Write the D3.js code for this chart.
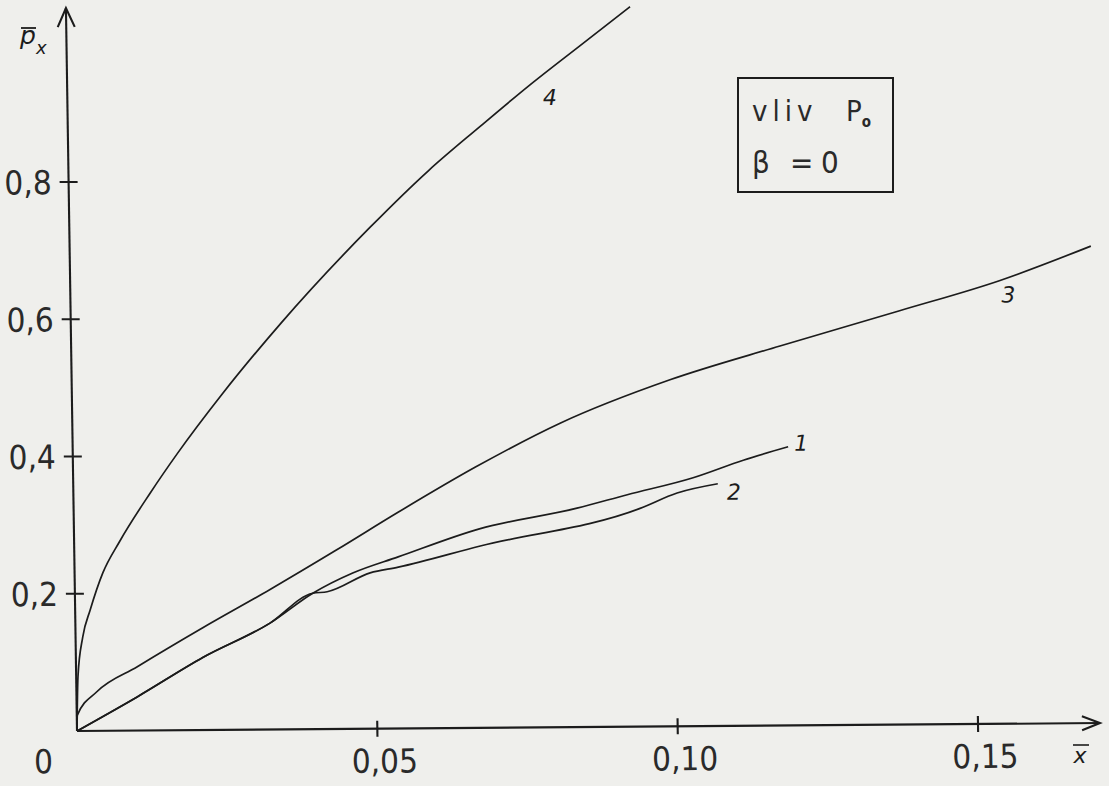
<!DOCTYPE html>
<html>
<head>
<meta charset="utf-8">
<script src="https://cdn.jsdelivr.net/npm/d3@7"></script>
<style>
html, body { margin: 0; padding: 0; background: #efefec; }
svg { display: block; }
.tlabel { font-family: "DejaVu Sans", sans-serif; font-stretch: condensed; font-size: 33px; fill: #2a2a2a; }
.curve { fill: none; stroke: #1c1c1c; stroke-width: 1.7; }
.axis { fill: none; stroke: #1c1c1c; stroke-width: 2.1; }
.clabel { font-family: "DejaVu Sans", sans-serif; font-style: italic; font-size: 22px; fill: #1c1c1c; }
.note { font-family: "DejaVu Sans", sans-serif; font-stretch: condensed; fill: #2a2a2a; }
</style>
</head>
<body>
<svg id="chart" width="1109" height="786"></svg>
<script>
// values (x = x-bar, y = p-bar_x)
var curve1 = [[0, 0], [0.0101, 0.049], [0.0212, 0.106], [0.0324, 0.155], [0.0396, 0.198],
	      [0.0463, 0.227], [0.0539, 0.250], [0.0675, 0.290], [0.0838, 0.319],
	      [0.0922, 0.338], [0.1032, 0.362], [0.1116, 0.387], [0.1191, 0.406]];
var curve2 = [[0, 0], [0.0101, 0.049], [0.0212, 0.106], [0.0324, 0.155], [0.0396, 0.198],
	      [0.0420, 0.200], [0.0492, 0.227], [0.0539, 0.235], [0.0676, 0.265],
	      [0.0943, 0.318], [0.1005, 0.340], [0.1073, 0.353]];
var curve3 = [[0, 0], [0.0001, 0.023], [0.0034, 0.057], [0.0102, 0.093], [0.0212, 0.149],
	      [0.0325, 0.204], [0.0437, 0.261], [0.0540, 0.315], [0.0670, 0.380],
	      [0.0812, 0.443], [0.0996, 0.505], [0.1180, 0.553], [0.1380, 0.603],
	      [0.1548, 0.646], [0.1700, 0.695]];
var curve4 = [[0, 0], [0.0003, 0.079], [0.0012, 0.137], [0.0025, 0.176], [0.0047, 0.230],
	      [0.0076, 0.276], [0.0128, 0.346], [0.0174, 0.403], [0.025, 0.489],
	      [0.035, 0.592], [0.050, 0.730], [0.060, 0.813], [0.0686, 0.876],
	      [0.0770, 0.936], [0.0855, 0.993], [0.0939, 1.049]];
var curveNames = ["1", "2", "3", "4"];

var xTicks = [0.05, 0.10, 0.15];
var xTickLabels = ["0,05", "0,10", "0,15"];
var yTicks = [0.2, 0.4, 0.6, 0.8];
var yTickLabels = ["0,2", "0,4", "0,6", "0,8"];

var svg = d3.select("#chart");

var x = d3.scaleLinear().domain([0, 0.15]).range([77, 978]);
var y = d3.scaleLinear().domain([0, 0.8]).range([731, 182]);

// the scan is a little skewed, so the plot frame is too
var ox = x(0), oy = y(0);
var g = svg.append("g")
    .attr("transform", "translate(" + ox + "," + oy + ") matrix(1,-0.0078,0.0153,1,0,0) translate(" + (-ox) + "," + (-oy) + ")");

// axes with open arrow heads
g.append("path").attr("class", "axis")
    .attr("d", "M" + ox + "," + oy + "V8");
g.append("path").attr("class", "axis")
    .attr("d", "M" + (ox - 8.5) + ",27L" + ox + ",8L" + (ox + 8.5) + ",27");
g.append("path").attr("class", "axis")
    .attr("d", "M" + ox + "," + oy + "H1100");
g.append("path").attr("class", "axis")
    .attr("d", "M1082," + (oy - 7) + "L1100," + oy + "L1082," + (oy + 7));

g.selectAll(".xtick")
    .data(xTicks)
    .enter().append("line")
    .attr("class", "axis xtick")
    .attr("x1", d => x(d)).attr("x2", d => x(d))
    .attr("y1", oy - 8).attr("y2", oy + 8);

g.selectAll(".ytick")
    .data(yTicks)
    .enter().append("line")
    .attr("class", "axis ytick")
    .attr("x1", ox - 9).attr("x2", ox + 9)
    .attr("y1", d => y(d)).attr("y2", d => y(d));

g.selectAll(".xlab")
    .data(xTicks)
    .enter().append("text")
    .attr("class", "tlabel xlab")
    .attr("x", d => x(d) + 7)
    .attr("y", oy + 44)
    .attr("text-anchor", "middle")
    .text((d, i) => xTickLabels[i]);

g.selectAll(".ylab")
    .data(yTicks)
    .enter().append("text")
    .attr("class", "tlabel ylab")
    .attr("x", ox - 17)
    .attr("y", d => y(d) + 12)
    .attr("text-anchor", "end")
    .text((d, i) => yTickLabels[i]);

g.append("text")
    .attr("class", "tlabel")
    .attr("x", ox - 34)
    .attr("y", oy + 42)
    .attr("text-anchor", "middle")
    .text("0");

var line = d3.line()
    .x(d => x(d[0]))
    .y(d => y(d[1]))
    .curve(d3.curveMonotoneX);

var curves = [curve1, curve2, curve3, curve4];
g.selectAll(".curve")
    .data(curves)
    .enter().append("path")
    .attr("class", "curve")
    .attr("d", line);

// curve numbers: which point they hang from, and the offset
var labelAt = [
    {pt: curve1.length - 1, dx: 13, dy: 4},
    {pt: curve2.length - 1, dx: 16, dy: 16},
    {pt: 13, dx: 8, dy: 22},
    {pt: 13, dx: 20, dy: 20}
];
g.selectAll(".clabel")
    .data(curveNames)
    .enter().append("text")
    .attr("class", "clabel")
    .attr("text-anchor", "middle")
    .attr("x", (d, i) => x(curves[i][labelAt[i].pt][0]) + labelAt[i].dx)
    .attr("y", (d, i) => y(curves[i][labelAt[i].pt][1]) + labelAt[i].dy)
    .text(d => d);

// axis names
svg.append("text")
    .attr("class", "clabel")
    .attr("x", 20).attr("y", 44)
    .style("font-size", "25px")
    .text("p");
svg.append("line").attr("class", "axis")
    .attr("x1", 21).attr("x2", 36).attr("y1", 28).attr("y2", 28)
    .style("stroke-width", 1.8);
svg.append("text")
    .attr("class", "clabel")
    .attr("x", 36).attr("y", 54)
    .style("font-size", "18px")
    .text("x");

svg.append("text")
    .attr("class", "clabel")
    .attr("x", 1080).attr("y", 763)
    .attr("text-anchor", "middle")
    .style("font-size", "22px")
    .text("x");
svg.append("line").attr("class", "axis")
    .attr("x1", 1073).attr("x2", 1089).attr("y1", 745).attr("y2", 745)
    .style("stroke-width", 1.6);

// note box
svg.append("rect")
    .attr("x", 738).attr("y", 78)
    .attr("width", 155).attr("height", 114)
    .attr("fill", "none")
    .attr("stroke", "#1c1c1c")
    .attr("stroke-width", 2);

var t1 = svg.append("text").attr("class", "note").attr("y", 121).style("font-size", "29px");
t1.append("tspan").attr("x", 752).style("letter-spacing", "5px").text("vliv");
t1.append("tspan").attr("x", 846).text("P");
t1.append("tspan").attr("dy", 6).style("font-size", "15px").style("font-weight", "bold").text("o");

var t2 = svg.append("text").attr("class", "note").attr("y", 173).style("font-size", "31px");
t2.append("tspan").attr("x", 752).text("β");
t2.append("tspan").attr("x", 790).text("=");
t2.append("tspan").attr("x", 821).text("0");
</script>
</body>
</html>
